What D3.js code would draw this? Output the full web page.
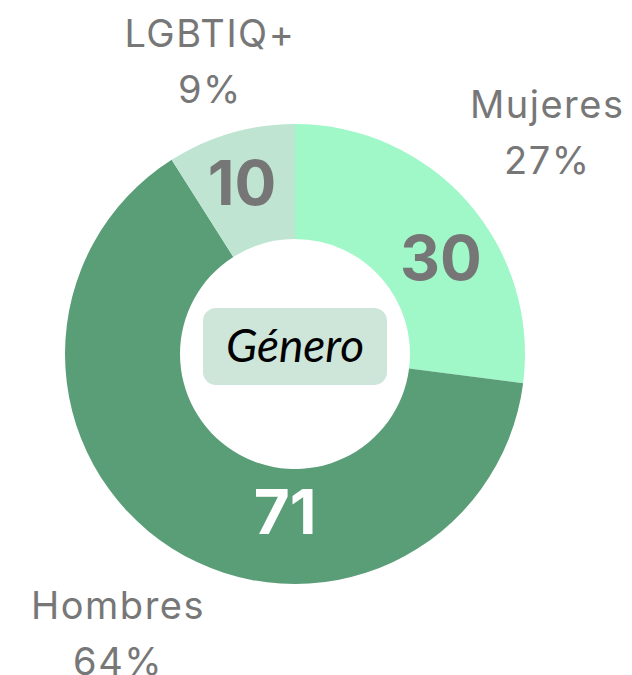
<!DOCTYPE html>
<html>
<head>
<meta charset="utf-8">
<script src="https://cdn.jsdelivr.net/npm/d3@7"></script>
<style>
  body { margin: 0; background: #fff; }
</style>
</head>
<body>
<div id="vis"></div>
<script>
// data
const categories = ['Mujeres', 'Hombres', 'LGBTIQ+'];
const counts = [30, 71, 10];
const shares = ['27%', '64%', '9%'];
const centerTitle = 'Género';

// colours, one per slice
const sliceColors = ['#a0f7c8', '#5a9e78', '#bfe5d2'];
const numberColors = ['#767676', '#ffffff', '#767676'];

const width = 632,
  height = 675;
const cx = 295,
  cy = 354;
const outerR = 230,
  innerR = 115;

// label placement (degrees clockwise from top, radius in px)
const numberSpot = {
  Mujeres: { angle: 56.5, r: 175 },
  Hombres: { angle: 183.6, r: 158 },
  'LGBTIQ+': { angle: 342.8, r: 179 },
};
const nameRadius = { Mujeres: 336, Hombres: 330, 'LGBTIQ+': 305 };

const rows = categories.map((c, i) => ({
  name: c,
  value: counts[i],
  share: shares[i],
  color: sliceColors[i],
  numColor: numberColors[i],
}));

const svg = d3
  .select('#vis')
  .append('svg')
  .attr('width', width)
  .attr('height', height);

const g = svg.append('g').attr('transform', `translate(${cx}, ${cy})`);

const pie = d3
  .pie()
  .sort(null)
  .value((d) => d.value);

const arc = d3.arc().innerRadius(innerR).outerRadius(outerR);

const slices = pie(rows);

g.selectAll('path.slice')
  .data(slices)
  .enter()
  .append('path')
  .attr('class', 'slice')
  .attr('d', arc)
  .attr('fill', (d) => d.data.color);

const polar = (deg, r) => {
  const a = (deg * Math.PI) / 180;
  return [r * Math.sin(a), -r * Math.cos(a)];
};

// big numbers inside the ring
const numSize = 62;
g.selectAll('text.num')
  .data(slices)
  .enter()
  .append('text')
  .attr('class', 'num')
  .attr('x', (d) => polar(numberSpot[d.data.name].angle, numberSpot[d.data.name].r)[0])
  .attr('y', (d) => polar(numberSpot[d.data.name].angle, numberSpot[d.data.name].r)[1] + numSize * 0.36)
  .attr('text-anchor', 'middle')
  .style('font-family', 'Inter, "Liberation Sans", sans-serif')
  .style('font-weight', 700)
  .style('font-size', numSize + 'px')
  .style('fill', (d) => d.data.numColor)
  .text((d) => d.data.value);

// outer name + share labels, at each slice's middle angle
const labelSize = 38;
g.selectAll('text.name')
  .data(slices)
  .enter()
  .append('text')
  .attr('class', 'name')
  .attr('text-anchor', 'middle')
  .style('font-family', 'Inter, "Liberation Sans", sans-serif')
  .style('font-size', labelSize + 'px')
  .style('letter-spacing', '1.5px')
  .style('fill', '#777777')
  .each(function (d) {
    const mid = (((d.startAngle + d.endAngle) / 2) * 180) / Math.PI;
    const [x, y] = polar(mid, nameRadius[d.data.name]);
    const t = d3.select(this);
    t.append('tspan').attr('x', x).attr('y', y - 14).text(d.data.name);
    t.append('tspan').attr('x', x).attr('y', y + 42).text(d.data.share);
  });

// centre title in a rounded box
const boxW = 184,
  boxH = 77;
g.append('rect')
  .attr('x', -boxW / 2)
  .attr('y', -46)
  .attr('width', boxW)
  .attr('height', boxH)
  .attr('rx', 13)
  .attr('fill', '#cee5da');

g.append('text')
  .attr('x', 0)
  .attr('y', 8)
  .attr('text-anchor', 'middle')
  .style('font-family', 'Lato, sans-serif')
  .style('font-style', 'italic')
  .style('font-size', '46px')
  .style('fill', '#000')
  .text(centerTitle);
</script>
</body>
</html>
